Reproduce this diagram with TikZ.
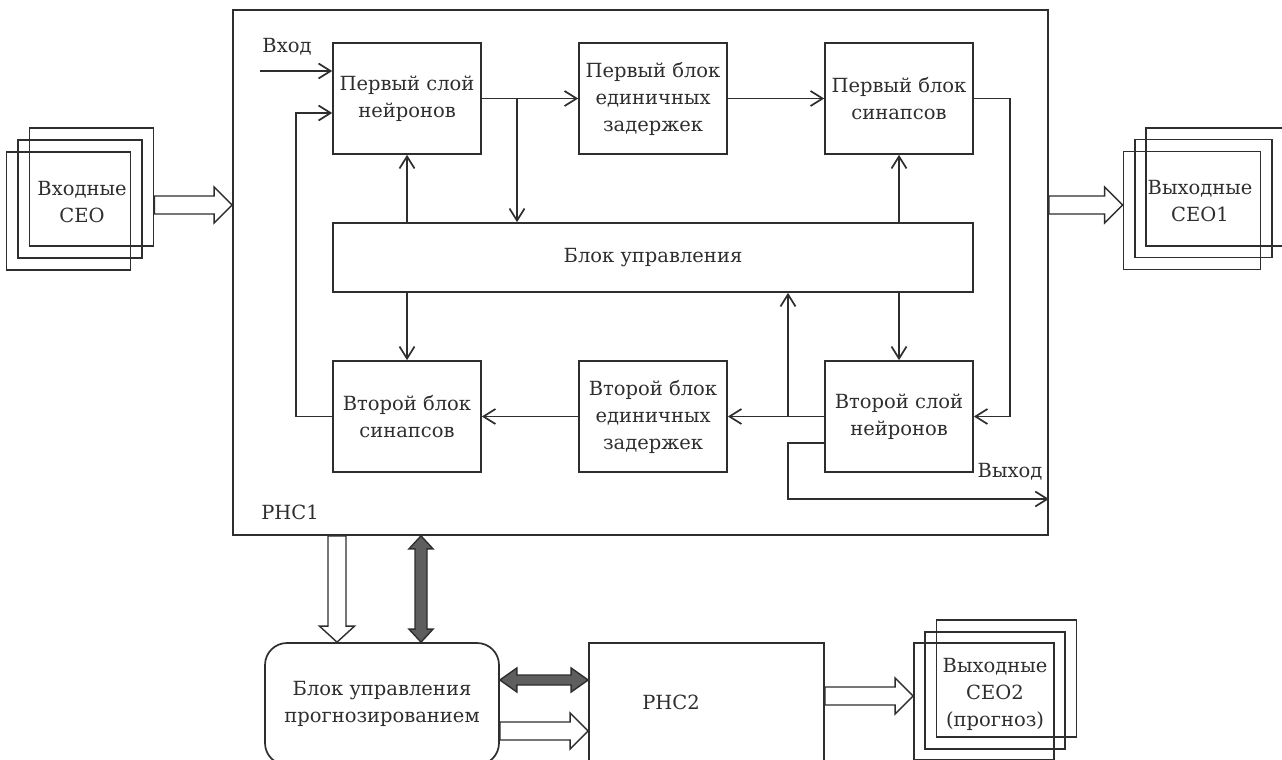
\documentclass[tikz,border=0pt]{standalone}
\usepackage{fontspec}
\setmainfont{DejaVu Serif}
\usetikzlibrary{arrows.meta,calc}
\definecolor{ln}{HTML}{2E2E2E}
\definecolor{dk}{HTML}{5E5E5E}
\newcommand\mydfont{\fontsize{19.5}{27}\selectfont}
\newcommand\hollowR[2]{\draw[hollow] let \p1=(#1),\p2=(#2) in (\x1,\y1+9pt) -- (\x2-18pt,\y1+9pt) -- (\x2-18pt,\y1+18pt) -- (\x2,\y1) -- (\x2-18pt,\y1-18pt) -- (\x2-18pt,\y1-9pt) -- (\x1,\y1-9pt) -- cycle;}
\newcommand\hollowD[2]{\draw[hollow] let \p1=(#1),\p2=(#2) in (\x1+9pt,\y1) -- (\x1+9pt,\y2+16pt) -- (\x1+17.5pt,\y2+16pt) -- (\x1,\y2) -- (\x1-17.5pt,\y2+16pt) -- (\x1-9pt,\y2+16pt) -- (\x1-9pt,\y1) -- cycle;}
\newcommand\darkH[2]{\draw[dark] let \p1=(#1),\p2=(#2) in (\x1,\y1) -- (\x1+17pt,\y1+12pt) -- (\x1+17pt,\y1+5pt) -- (\x2-17pt,\y1+5pt) -- (\x2-17pt,\y1+12pt) -- (\x2,\y1) -- (\x2-17pt,\y1-12pt) -- (\x2-17pt,\y1-5pt) -- (\x1+17pt,\y1-5pt) -- (\x1+17pt,\y1-12pt) -- cycle;}
\newcommand\darkV[2]{\draw[dark] let \p1=(#1),\p2=(#2) in (\x1,\y1) -- (\x1+12pt,\y1-13pt) -- (\x1+6pt,\y1-13pt) -- (\x1+6pt,\y2+13pt) -- (\x1+12pt,\y2+13pt) -- (\x1,\y2) -- (\x1-12pt,\y2+13pt) -- (\x1-6pt,\y2+13pt) -- (\x1-6pt,\y1-13pt) -- (\x1-12pt,\y1-13pt) -- cycle;}
\begin{document}
\begin{tikzpicture}[x=1pt,y=-1pt,color=ln,line width=1.7pt,
  box/.style={draw, minimum width=148pt, minimum height=111pt, align=center, inner sep=0pt, font=\mydfont},
  bigbox/.style={draw, minimum width=815pt, minimum height=525pt, inner sep=0pt},
  sq/.style={draw, minimum width=124pt, minimum height=118pt, inner sep=0pt},
  sqw/.style={draw, minimum width=137pt, minimum height=118pt, inner sep=0pt},
  sqb/.style={draw, minimum width=140pt, minimum height=117pt, inner sep=0pt},
  lbl/.style={align=center, inner sep=0pt, font=\mydfont},
  arr/.style={-{Straight Barb[length=12pt,width=15pt]}},
  hollow/.style={draw, fill=white, line width=1.4pt, line join=miter},
  dark/.style={draw, fill=dk, line width=1.4pt, line join=miter}]
\useasboundingbox (0,0) rectangle (1282,760);
\clip (0,0) rectangle (1282,760);
\fill[white] (0,0) rectangle (1282,760);

% main block RNC1
\node[bigbox] (rnc1) at (640.5,272.5) {};
\node[lbl] (rnclab) at (290,512) {РНС1};
\node[box] (b1) at (407,98.5) {Первый слой\\нейронов};
\node[box] (b2) at (653,98.5) {Первый блок\\единичных\\задержек};
\node[box] (b3) at (899,98.5) {Первый блок\\синапсов};
\node[box, minimum width=640pt, minimum height=69pt] (ctrl) at (653,257.5) {Блок управления};
\node[box] (b4) at (407,416.5) {Второй блок\\синапсов};
\node[box] (b5) at (653,416.5) {Второй блок\\единичных\\задержек};
\node[box] (b6) at (899,416.5) {Второй слой\\нейронов};
\node[lbl] (vhod) at (287,47) {Вход};
\node[lbl] (vyhod) at (1010,472) {Выход};

\coordinate (vin) at (260,71);
\coordinate (br1) at (517,98.5);
\coordinate (br2) at (788,416.5);
\coordinate (outc) at (788,499);

\draw[arr] (vin) -- (vin -| b1.west);
\draw[arr] (b4.west) -- ++(-36,0) |- ($(b1.west)+(0,14.5)$);
\draw[arr] (b1.east) -- (b2.west);
\draw[arr] (br1) -- (br1 |- ctrl.north);
\draw[arr] (b1.south |- ctrl.north) -- (b1.south);
\draw[arr] (b2.east) -- (b3.west);
\draw[arr] (b3.south |- ctrl.north) -- (b3.south);
\draw[arr] (b3.east) -- ++(36,0) |- (b6.east);
\draw[arr] (b6.north |- ctrl.south) -- (b6.north);
\draw[arr] (b4.north |- ctrl.south) -- (b4.north);
\draw[arr] (b6.west) -- (b5.east);
\draw[arr] (br2) -- (br2 |- ctrl.south);
\draw[arr] (b5.west) -- (b4.east);
\draw[arr] ($(b6.west)+(0,26.5)$) -| (outc) -- (outc -| rnc1.east);

% input stack
\node[sq] (inA) at (91.5,187) {};
\node[sq] (inB) at (80,199) {};
\node[sq] (inC) at (68.5,211) {};
\node[lbl] (inT) at (82,202) {Входные\\СЕО};

% output stack 1
\node[sqw] (oA) at (1214.5,187) {};
\node[sqw] (oB) at (1203.5,198.5) {};
\node[sqw] (oC) at (1192,210.5) {};
\node[lbl] (oT) at (1200,201) {Выходные\\СЕО1};

\coordinate (yA) at (0,205);
\hollowR{inA.east |- yA}{rnc1.west |- yA}
\hollowR{rnc1.east |- yA}{oC.west |- yA}

% bottom part
\node[draw, rounded corners=22pt, minimum width=234pt, minimum height=122pt, align=center, inner sep=0pt, font=\mydfont] (bup) at (382,704) {Блок управления\\прогнозированием};
\node[draw, minimum width=235pt, minimum height=122pt, inner sep=0pt] (rnc2) at (706.5,704) {};
\node[lbl] (rnc2lab) at (671,702) {РНС2};

\node[sqb] (pA) at (1006.5,678.5) {};
\node[sqb] (pB) at (995,690.5) {};
\node[sqb] (pC) at (984,701.5) {};
\node[lbl] (pT) at (995,694) {Выходные\\СЕО2\\(прогноз)};

\coordinate (xD) at (337,0);
\coordinate (xV) at (421,0);
\coordinate (yH) at (0,680);
\coordinate (yH2) at (0,731);
\coordinate (yO) at (0,696);
\hollowD{xD |- rnc1.south}{xD |- bup.north}
\darkV{xV |- rnc1.south}{xV |- bup.north}
\darkH{bup.east |- yH}{rnc2.west |- yH}
\hollowR{bup.east |- yH2}{rnc2.west |- yH2}
\hollowR{rnc2.east |- yO}{pC.west |- yO}
\end{tikzpicture}
\end{document}
